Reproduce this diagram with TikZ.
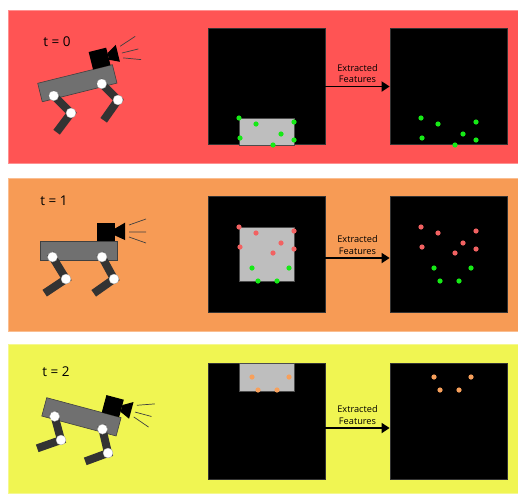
\documentclass[tikz,border=0pt]{standalone}
\usepackage{fontspec}
\setmainfont{Open Sans}
\usepackage{tikz}
\usetikzlibrary{arrows.meta,positioning}
\definecolor{panelred}{HTML}{FF5454}
\definecolor{panelorange}{HTML}{F79B55}
\definecolor{panelyellow}{HTML}{F0F552}
\definecolor{ptgreen}{HTML}{16EA16}
\definecolor{ptred}{HTML}{F26262}
\definecolor{ptorange}{HTML}{F7A05C}
\definecolor{bodygray}{HTML}{707070}
\definecolor{leggray}{HTML}{333333}
\definecolor{cropgray}{HTML}{BEBEBE}
\tikzset{
  panel/.style={line width=0.6pt},
  frame/.style={rectangle,fill=black,draw=black!80,line width=0.8pt,
    minimum width=117pt,minimum height=116pt,inner sep=0pt},
  crop/.style={fill=cropgray,draw=black!70,line width=0.6pt},
  arrow/.style={-{Triangle[length=8pt,width=10pt]},line width=1.8pt,draw=black},
  caption/.style={font=\fontsize{9.2}{11.5}\selectfont,align=center,text=black,inner sep=2pt},
  tlabel/.style={font=\fontsize{13.5}{16}\selectfont},
  leg/.style={draw=leggray,line width=8pt,line cap=rect},
  joint/.style={circle,fill=white,draw=black!40,line width=0.3pt,
    minimum size=10pt,inner sep=0pt},
  beam/.style={draw=black!75,line width=0.7pt},
  robot/.pic={
    \filldraw[fill=bodygray,draw=black!75,line width=0.6pt] (0,0) rectangle (77,19);
    \fill[black] (57,-18) rectangle (75,0);
    \fill[black] (75,-12.5) -- (85,-18.3) -- (85,-1) -- (75,-5.5) -- cycle;
    \draw[beam] (89,-16) -- (106,-22) (89,-9) -- (106,-9) (89,-4) -- (106,2);
    \coordinate (-hipB) at (12.5,16);
    \coordinate (-hipF) at (62,16);
  }
}

\begin{document}
\begin{tikzpicture}[x=1pt,y=-1pt]
\useasboundingbox (0,0) rectangle (518,493);

% backgrounds
\filldraw[panel,fill=panelred,draw=panelred!65!white] (8,10) rectangle (518,163);
\filldraw[panel,fill=panelorange,draw=panelorange!65!white] (8,178) rectangle (518,331);
\filldraw[panel,fill=panelyellow,draw=panelyellow!65!white] (8,344) rectangle (518,493);

% camera frames and extracted features
\node[frame] (img0) at (266.5,86.5) {};
\node[frame] (feat0) at (448.5,86.5) {};
\node[frame] (img1) at (266.5,254) {};
\node[frame] (feat1) at (448.5,254) {};
\node[frame] (img2) at (266.5,421) {};
\node[frame] (feat2) at (448.5,421) {};

\draw[crop] (239,118) rectangle (294,145);
\draw[crop] (239,227) rectangle (294,281);
\draw[crop] (239,363) rectangle (294,391);

\foreach \x/\y in {239/118,256/124,294/122,240/138,281/134,294/140,273/145}{
  \fill[ptgreen] (\x,\y) circle (2.6pt);
  \fill[ptgreen] (\x+182,\y) circle (2.6pt);
}
\foreach \x/\y in {239/227,256/233,294/231,281/243,240/247,294/249,273/253}{
  \fill[ptred] (\x,\y) circle (2.6pt);
  \fill[ptred] (\x+182,\y) circle (2.6pt);
}
\foreach \x/\y in {252/268,289/268,258/281,277/281}{
  \fill[ptgreen] (\x,\y) circle (2.6pt);
  \fill[ptgreen] (\x+182,\y) circle (2.6pt);
}
\foreach \x/\y in {252/377,289/377,258/390,277/390}{
  \fill[ptorange] (\x,\y) circle (2.6pt);
  \fill[ptorange] (\x+182,\y) circle (2.6pt);
}

\draw[arrow] (img0.east) -- node[caption,above=1pt] {Extracted\\Features} (feat0.west);
\draw[arrow] ([yshift=-4pt]img1.east) -- node[caption,above=1pt] {Extracted\\Features} ([yshift=-4pt]feat1.west);
\draw[arrow] ([yshift=-7pt]img2.east) -- node[caption,above=1pt] {Extracted\\Features} ([yshift=-7pt]feat2.west);

% time steps
\node[tlabel] (t0) at (57,42) {t = 0};
\node[tlabel] (t1) at (54,201) {t = 1};
\node[tlabel] (t2) at (56,372) {t = 2};

% robots
\pic[rotate=14] (r0) at (37.7,83.3) {robot};
\draw[leg] (r0-hipB) -- (71,113);
\draw[leg] (71,113) -- (59,129);
\draw[leg] (r0-hipF) -- (118,100);
\draw[leg] (118,100) -- (106,117);
\foreach \j in {(r0-hipB),(r0-hipF),(71,113),(118,100)} \node[joint] at \j {};

\pic (r1) at (40,241) {robot};
\draw[leg] (r1-hipB) -- (66,279);
\draw[leg] (66,279) -- (48,291);
\draw[leg] (r1-hipF) -- (114,279);
\draw[leg] (114,279) -- (97,291);
\foreach \j in {(r1-hipB),(r1-hipF),(66,279),(114,279)} \node[joint] at \j {};

\pic[rotate=-15] (r2) at (46.7,397.7) {robot};
\draw[leg] (r2-hipB) -- (61,440);
\draw[leg] (61,440) -- (41,447);
\draw[leg] (r2-hipF) -- (108,453);
\draw[leg] (108,453) -- (89,460);
\foreach \j in {(r2-hipB),(r2-hipF),(61,440),(108,453)} \node[joint] at \j {};
\end{tikzpicture}
\end{document}
